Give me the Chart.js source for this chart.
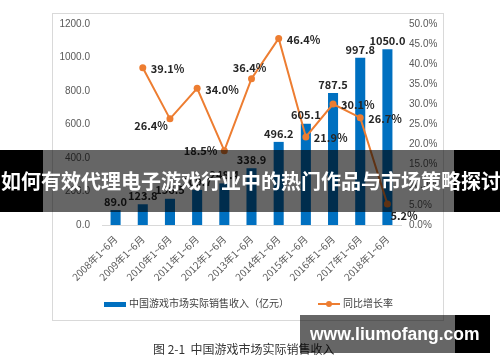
<!DOCTYPE html>
<html>
<head>
<meta charset="utf-8">
<script src="https://cdn.jsdelivr.net/npm/chart.js@4"></script>
<style>
  body { margin: 0; width: 500px; height: 362px; background: #fff; position: relative; overflow: hidden;
         font-family: "Noto Sans CJK SC", "Noto Sans", sans-serif; }
  #box { position: absolute; left: 52px; top: 13px; width: 390px; height: 306px; border: 1px solid #d9d9d9; }
  #box canvas { display: block; }
  .legend { position: absolute; top: 296px; font-size: 10px; color: #404040; line-height: 14px; white-space: nowrap; }
  .caption { position: absolute; left: 153px; top: 340px; font-size: 12px; color: #333; white-space: nowrap; }
  .band { position: absolute; }
  .bandText { position: absolute; color: #fff; font-weight: bold; white-space: nowrap; }
</style>
</head>
<body>
<div id="box"><canvas id="myChart" width="390" height="306"></canvas></div>

<div class="legend" style="left:104px"><span style="display:inline-block;width:22px;height:5px;background:#0070C0;vertical-align:middle;margin-right:3px"></span>中国游戏市场实际销售收入（亿元）</div>
<div class="legend" style="left:318px"><span style="display:inline-block;position:relative;width:22px;height:2px;background:#ED7D31;vertical-align:middle;margin-right:3px"><span style="position:absolute;left:8px;top:-2px;width:6px;height:6px;border-radius:3px;background:#ED7D31"></span></span>同比增长率</div>

<div class="caption">图 2-1&nbsp;&nbsp;中国游戏市场实际销售收入</div>

<div class="band" style="left:0;top:150px;width:43px;height:62px;background:#000"></div>
<div class="band" style="left:43px;top:150px;width:411px;height:62px;background:rgba(0,0,0,0.6)"></div>
<div class="band" style="left:454px;top:150px;width:46px;height:62px;background:#000"></div>
<div class="bandText" style="left:1px;top:166px;font-size:20px;line-height:30px">如何有效代理电子游戏行业中的热门作品与市场策略探讨</div>

<div class="band" style="left:300px;top:315px;width:155px;height:38px;background:rgba(0,0,0,0.6)"></div>
<div class="band" style="left:455px;top:315px;width:35px;height:38px;background:#000"></div>
<div class="bandText" style="left:310px;top:320px;font-size:17.5px;line-height:28px;font-family:'Liberation Sans',sans-serif">www.liumofang.com</div>

<script>
var periods = ['2008年1~6月', '2009年1~6月', '2010年1~6月', '2011年1~6月', '2012年1~6月', '2013年1~6月',
               '2014年1~6月', '2015年1~6月', '2016年1~6月', '2017年1~6月', '2018年1~6月'];
var revenue = [89.0, 123.8, 156.5, 209.7, 248.4, 338.9, 496.2, 605.1, 787.5, 997.8, 1050.0];
var growth = [null, 39.1, 26.4, 34.0, 18.5, 36.4, 46.4, 21.9, 30.1, 26.7, 5.2];

// where each growth label sits relative to its point
var growthLabelPos = ['', 'right', 'leftBelow', 'right', 'left', 'above', 'right', 'right', 'right', 'right', 'rightBelow'];

var labelPlugin = {
  id: 'valueLabels',
  afterDatasetsDraw: function (chart) {
    var c = chart.ctx;
    c.save();
    c.font = 'bold 11px "Noto Sans CJK SC", sans-serif';
    c.fillStyle = '#262626';
    var bars = chart.getDatasetMeta(0).data;
    c.textAlign = 'center';
    c.textBaseline = 'bottom';
    bars.forEach(function (b, i) {
      c.fillText(revenue[i].toFixed(1), b.x, b.y - 3);
    });
    var pts = chart.getDatasetMeta(1).data;
    c.textBaseline = 'middle';
    pts.forEach(function (p, i) {
      if (growth[i] == null) return;
      var t = growth[i].toFixed(1) + '%';
      var pos = growthLabelPos[i];
      if (pos == 'right') { c.textAlign = 'left'; c.fillText(t, p.x + 8, p.y + 1); }
      else if (pos == 'left') { c.textAlign = 'right'; c.fillText(t, p.x - 7, p.y); }
      else if (pos == 'leftBelow') { c.textAlign = 'right'; c.fillText(t, p.x - 2, p.y + 7); }
      else if (pos == 'above') { c.textAlign = 'center'; c.fillText(t, p.x - 2, p.y - 11); }
      else if (pos == 'rightBelow') { c.textAlign = 'left'; c.fillText(t, p.x + 3, p.y + 12); }
    });
    c.restore();
  }
};

var ctx = document.getElementById('myChart').getContext('2d');
var myChart = new Chart(ctx, {
  type: 'bar',
  data: {
    labels: periods,
    datasets: [{
      type: 'bar',
      label: '中国游戏市场实际销售收入（亿元）',
      data: revenue,
      backgroundColor: '#0070C0',
      barPercentage: 0.37,
      categoryPercentage: 1,
      yAxisID: 'y',
      order: 2
    }, {
      type: 'line',
      label: '同比增长率',
      data: growth,
      borderColor: '#ED7D31',
      backgroundColor: '#ED7D31',
      borderWidth: 2,
      pointRadius: 3.5,
      pointBorderWidth: 0,
      yAxisID: 'y1',
      order: 1
    }]
  },
  options: {
    responsive: false,
    animation: false,
    layout: { padding: { top: 6, bottom: 33 } },
    plugins: {
      legend: { display: false },
      tooltip: { enabled: false }
    },
    scales: {
      x: {
        grid: { display: false },
        border: { color: '#d9d9d9' },
        ticks: {
          color: '#595959',
          font: { size: 10, family: '"Noto Sans CJK SC", sans-serif' },
          maxRotation: 45, minRotation: 45, padding: 0
        },
        afterFit: function (s) { s.height = 62; }
      },
      y: {
        position: 'left',
        min: 0, max: 1200,
        grid: { display: false },
        border: { display: false },
        ticks: {
          stepSize: 200, color: '#595959', padding: 4,
          font: { size: 10, family: '"Liberation Sans", sans-serif' },
          callback: function (v) { return v.toFixed(1); }
        },
        afterFit: function (s) { s.width = 49; }
      },
      y1: {
        position: 'right',
        min: 0, max: 50,
        grid: { display: false },
        border: { display: false },
        ticks: {
          stepSize: 5, color: '#595959', padding: 0,
          font: { size: 10, family: '"Liberation Sans", sans-serif' },
          callback: function (v) { return v.toFixed(1) + '%'; }
        },
        afterFit: function (s) { s.width = 42; }
      }
    }
  },
  plugins: [labelPlugin]
});
</script>
</body>
</html>
